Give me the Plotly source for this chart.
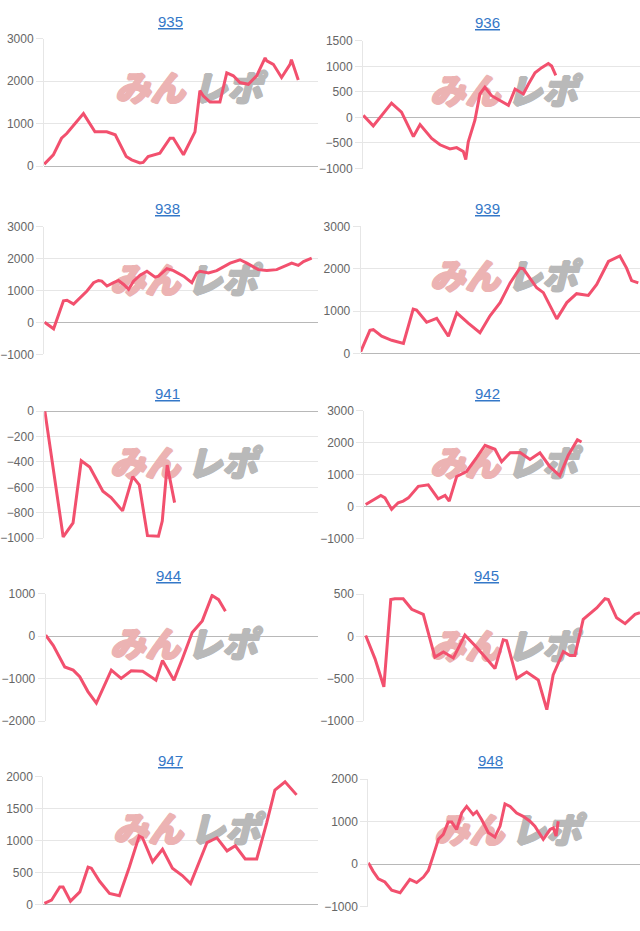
import plotly.graph_objects as go

W, H = 640, 931

titles = ["935", "936", "938", "939", "941", "942", "944", "945", "947", "948"]

x_935 = [0.1, 2.2, 3.4, 6.4, 8.3, 14.4, 18.6, 22.9, 26, 30, 32, 35, 36.2, 38, 42.3, 46, 47.2, 50.9, 55.1, 56.9, 58.1, 60.6, 64.2, 66.7, 69.1, 71.5, 74.6, 77.6, 80.7, 81.3, 83.7, 86.7, 89.8, 90.3, 91, 92.8]
y_935 = [50, 200, 270, 660, 770, 1240, 810, 810, 740, 230, 150, 80, 90, 230, 310, 660, 660, 270, 810, 1780, 1660, 1510, 1510, 2200, 2130, 1970, 1930, 2130, 2550, 2480, 2400, 2090, 2400, 2510, 2360, 2030]

x_936 = [0.1, 3.7, 10.3, 13.9, 18.2, 20.6, 24.8, 27.8, 31.4, 33.8, 36.2, 37.1, 38, 40.4, 42.2, 44, 46.4, 49.5, 52.5, 54.9, 57.9, 59.7, 62.1, 64.5, 66.9, 68.1, 69.6]
y_936 = [40, -165, 280, 105, -375, -140, -410, -535, -615, -590, -665, -825, -475, -55, 460, 590, 425, 330, 235, 555, 460, 650, 875, 975, 1055, 1005, 825]

x_938 = [0.1, 3.4, 7.0, 8.3, 10.7, 13.1, 15.6, 18, 19.8, 21, 22.9, 25.3, 27.1, 29, 30.8, 32.6, 35, 37.5, 40.5, 41.7, 44.8, 47.2, 50.9, 53.9, 55.7, 56.9, 60, 63, 67.9, 71.5, 74, 78.2, 81.3, 84.9, 88.6, 90.4, 92.8, 94.7, 97.7]
y_938 = [10, -195, 680, 700, 580, 785, 990, 1250, 1320, 1300, 1145, 1250, 1320, 1195, 1040, 1300, 1485, 1610, 1425, 1455, 1690, 1630, 1455, 1250, 1555, 1610, 1555, 1630, 1865, 1970, 1865, 1660, 1630, 1660, 1795, 1865, 1795, 1915, 2020]

x_939 = [0, 3.3, 4.5, 7.5, 11.1, 15.3, 18.8, 20, 23.6, 27.2, 31.4, 34.4, 38.5, 42.7, 46.3, 49.9, 53.5, 57, 58.2, 63, 65.4, 70.2, 73.8, 77.3, 81.5, 84.5, 88.7, 92.8, 95.2, 97, 99.4]
y_939 = [40, 545, 560, 405, 310, 235, 1045, 1025, 735, 830, 405, 955, 715, 490, 890, 1200, 1665, 2015, 2000, 1550, 1435, 815, 1200, 1410, 1370, 1630, 2170, 2300, 2015, 1720, 1665]

x_941 = [0.2, 6.9, 10.5, 13.5, 16.6, 21.4, 24.4, 28.6, 32.3, 34.7, 37.7, 41.7, 43.1, 44.9, 47.6]
y_941 = [0, -990, -880, -390, -440, -630, -680, -785, -515, -580, -980, -985, -865, -425, -720]

x_942 = [0.5, 3.3, 6, 7.5, 9.9, 12.3, 14.1, 16, 19.6, 23.2, 26.8, 29.3, 30.8, 33.5, 37.1, 40.8, 43.8, 47.4, 49.8, 52.9, 56.5, 60.1, 63.7, 67.3, 70.9, 74, 77.3, 78.8]
y_942 = [75, 230, 355, 280, -75, 130, 180, 280, 640, 690, 250, 355, 180, 950, 1105, 1545, 1925, 1800, 1410, 1690, 1700, 1480, 1690, 1255, 970, 1615, 2095, 2025]

x_944 = [0, 2.8, 7, 10.1, 12.5, 15.5, 18.6, 21.6, 24.1, 27.7, 31.4, 35.6, 40.5, 42.9, 47.1, 50.2, 53.8, 57.5, 61.1, 63.5, 66]
y_944 = [25, -220, -725, -800, -955, -1305, -1575, -1150, -800, -995, -815, -825, -1035, -570, -1035, -530, 85, 360, 960, 860, 590]

x_945 = [0.5, 3.9, 7.1, 9.6, 11.1, 14.1, 17.2, 21.4, 25.6, 28.7, 32.3, 36.5, 40.8, 44.4, 47.4, 50.4, 51.6, 55.3, 58.9, 63.1, 66.2, 68.5, 72.2, 74.6, 76.4, 79.4, 84.3, 87.3, 88.5, 91.5, 94.6, 98.2, 100]
y_945 = [10, -265, -595, 435, 445, 445, 320, 260, -245, -185, -255, 15, -130, -265, -380, -40, -50, -495, -420, -515, -865, -455, -180, -225, -225, 200, 335, 445, 435, 220, 150, 260, 280]

x_947 = [0.4, 3, 6, 7.2, 9.9, 13.3, 16.3, 17.5, 20.5, 24.1, 27.7, 31.3, 34.9, 36.1, 39.8, 43.4, 47, 50.6, 53.6, 56.6, 59.6, 63.2, 66.9, 69.9, 73.5, 77.7, 81.3, 84.3, 88, 92.2]
y_947 = [25, 75, 280, 280, 60, 205, 590, 575, 370, 180, 145, 590, 1075, 1050, 675, 870, 575, 460, 335, 640, 975, 1050, 845, 925, 720, 720, 1280, 1795, 1925, 1720]

x_948 = [0, 1.8, 3.7, 6.1, 8.6, 11.7, 15.3, 17.8, 20.3, 22.1, 23.9, 25.8, 27.6, 29.4, 30.7, 32.5, 34.4, 36.2, 38.6, 39.9, 41.7, 44.2, 46.6, 48.5, 50.3, 52.2, 54.6, 57, 59.5, 61.3, 64.4, 66.9, 68.1, 69.1, 69.9]
y_948 = [30, -170, -345, -420, -615, -675, -360, -435, -305, -150, 200, 585, 700, 990, 990, 815, 1205, 1360, 1165, 1240, 1050, 740, 640, 895, 1420, 1360, 1205, 1125, 1010, 895, 585, 815, 855, 660, 1010]

y_ranges = [[0, 3000], [-1000, 1500], [-1000, 3000], [0, 3000], [-1000, 0],
            [-1000, 3000], [-2000, 1000], [-1000, 500], [0, 2000], [-1000, 2000]]
y_steps = [1000, 500, 1000, 1000, 200, 1000, 1000, 500, 500, 1000]

xs = [x_935, x_936, x_938, x_939, x_941, x_942, x_944, x_945, x_947, x_948]
ys = [y_935, y_936, y_938, y_939, y_941, y_942, y_944, y_945, y_947, y_948]

# plot-area boxes in pixels: (left, right, top, bottom)
boxes = [
    (44, 318, 32.3, 161.7), (363, 640, 34.3, 164),
    (44.3, 318, 223.3, 352.7), (360.7, 640, 222.7, 351.7),
    (44.3, 318, 410.3, 539.3), (364.3, 640, 410, 540),
    (45.7, 318, 595.7, 725), (364.3, 640, 596, 725),
    (43.3, 318, 781.7, 911.7), (368.3, 640, 784, 913.3),
]
title_pos = [(170, 15), (487, 16), (167, 205), (487, 205), (167, 392.5),
             (487, 392.5), (168, 577.5), (486, 577), (170, 764.5), (490, 765)]
wm_pos = [(188, 87), (503, 90), (183, 281), (503, 277), (183, 467),
          (503, 467), (183, 651), (503, 653), (186, 839), (507, 840)]

LINE = "#f2506e"
GRID = "#e6e6e6"
WM_PINK = "#ecb3b3"
WM_GRAY = "#b9b9b9"


def shadow(c):
    return f"1px 0 0 {c}, -1px 0 0 {c}, 0 1px 0 {c}, 0 -1px 0 {c}, 1px 1px 0 {c}"


fig = go.Figure()
layout = dict(width=W, height=H, margin=dict(l=0, r=0, t=0, b=0),
              paper_bgcolor="white", plot_bgcolor="white", showlegend=False)
annotations = []

for i in range(10):
    n = "" if i == 0 else str(i + 1)
    l, r, t, b = boxes[i]
    y0, y1 = y_ranges[i]
    # watermark (drawn beneath the line)
    wx, wy = wm_pos[i]
    wxd_l = (wx - 38 - l) / (r - l) * 100
    wxd_r = (wx + 39 - l) / (r - l) * 100
    wyd = y1 - (wy - t) / (b - t) * (y1 - y0)
    fig.add_trace(go.Scatter(x=[wxd_l, wxd_r], y=[wyd, wyd], mode="text",
                             text=["<i>みん</i>", "<i>レポ</i>"],
                             textposition="middle center",
                             textfont=dict(family="Noto Sans CJK JP", size=35, weight=900,
                                           color=[WM_PINK, WM_GRAY],
                                           shadow=[shadow(WM_PINK), shadow(WM_GRAY)]),
                             xaxis="x" + n, yaxis="y" + n, hoverinfo="skip",
                             cliponaxis=False))
    fig.add_trace(go.Scatter(x=xs[i], y=ys[i], mode="lines",
                             line=dict(color=LINE, width=3),
                             xaxis="x" + n, yaxis="y" + n, hoverinfo="skip"))
    layout["xaxis" + n] = dict(domain=[l / W, r / W], range=[0, 100], visible=False,
                               anchor="y" + n)
    layout["yaxis" + n] = dict(domain=[1 - b / H, 1 - t / H], range=y_ranges[i],
                               dtick=y_steps[i], tick0=0, anchor="x" + n,
                               showgrid=True, gridcolor=GRID, gridwidth=1,
                               zeroline=True, zerolinecolor="#b8b8b8", zerolinewidth=1,
                               showline=True, linecolor=GRID, linewidth=1,
                               ticks="outside", ticklen=7, tickcolor=GRID,
                               tickfont=dict(family="Liberation Sans, Arial", size=12,
                                             color="#666666"))
    tx, ty = title_pos[i]
    annotations.append(dict(text="<u>" + titles[i] + "</u>", x=tx / W, y=1 - ty / H,
                            xref="paper", yref="paper", showarrow=False,
                            xanchor="center", yanchor="middle",
                            font=dict(family="Liberation Sans, Arial", size=15,
                                      color="#3478c8")))

layout["annotations"] = annotations
fig.update_layout(**layout)
fig.write_html("out.html")
